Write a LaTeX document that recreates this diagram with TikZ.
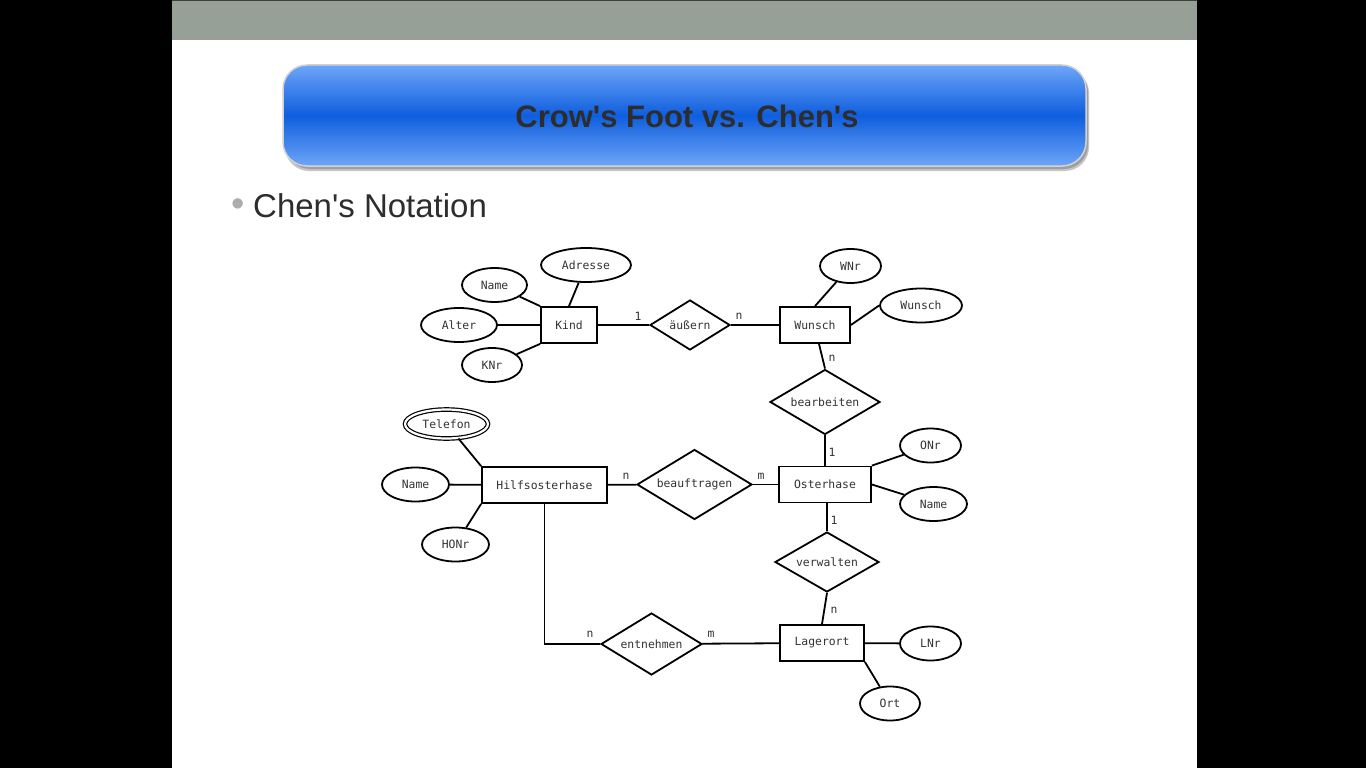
\documentclass[tikz,border=0pt]{standalone}
\usepackage{fontspec}
\setmainfont{Liberation Sans}[Ligatures=TeXOff]
\newfontfamily\monof{DejaVu Sans Mono}
\usetikzlibrary{shapes.geometric}
\definecolor{greybar}{RGB}{150,160,150}
\definecolor{tbA}{RGB}{110,165,248}
\definecolor{tbB}{RGB}{14,94,222}
\definecolor{txt}{RGB}{45,45,45}
\begin{document}
\begin{tikzpicture}[x=1pt,y=-1pt,
  er/.style={font=\monof\fontsize{11.4}{13}\selectfont, text=black!80},
  entity/.style={er, draw, line width=1.8, inner sep=0, minimum height=36},
  rel/.style={er, draw, diamond, aspect=2.5, line width=1.8, inner sep=0},
  attr/.style={er, draw, ellipse, line width=1.8, inner sep=0, minimum height=34},
  card/.style={er, inner sep=0},
  link/.style={line width=1.8}]
\useasboundingbox (0,0) rectangle (1366,768);
\fill[black] (0,0) rectangle (1366,768);
\fill[white] (172,40) rectangle (1197,768);
\fill[greybar] (172,0) rectangle (1197,40);
\fill[black!60!greybar] (172,0) rectangle (1197,1.5);
% title box
\fill[gray!45, rounded corners=24] (285,69) rectangle (1089,171);
\fill[gray!75, rounded corners=24] (286,68) rectangle (1088,169);
\shade[top color=tbA, bottom color=tbA, middle color=tbB, rounded corners=24, draw=gray!35, line width=1.5] (283,65) rectangle (1086,166);
\node[font=\bfseries\fontsize{31}{36}\selectfont, text=txt] (title) at (687,116) {Crow's Foot vs. Chen's};
\node[text=gray!65, font=\fontsize{38}{40}\selectfont, inner sep=0] (bullet) at (238,208) {•};
\node[anchor=west, font=\fontsize{33}{38}\selectfont, text=txt, inner sep=0] (sub) at (253,206) {Chen's Notation};
% entities
\node[entity, minimum width=56] (kind) at (569,325) {Kind};
\node[entity, minimum width=70] (wunsch) at (815,325) {Wunsch};
\node[entity, minimum width=125] (hilfs) at (544.5,485) {Hilfsosterhase};
\node[entity, minimum width=92] (oster) at (825,484.5) {Osterhase};
\node[entity, minimum width=84] (lager) at (822,643) {Lagerort};
% relationships
\node[rel, minimum width=80, minimum height=50] (aeussern) at (690,325) {äußern};
\node[rel, minimum width=110, minimum height=65] (bearb) at (825,402) {bearbeiten};
\node[rel, minimum width=115, minimum height=70] (beauf) at (694.5,484.5) {beauftragen};
\node[rel, minimum width=104, minimum height=60] (verw) at (827,562) {verwalten};
\node[rel, minimum width=101, minimum height=62] (entn) at (651.5,644) {entnehmen};
% attributes
\node[attr, minimum width=90] (adresse) at (586,265) {Adresse};
\node[attr, minimum width=65] (nameK) at (494.5,285) {Name};
\node[attr, minimum width=76] (alter) at (459,325) {Alter};
\node[attr, minimum width=60] (knr) at (492,365) {KNr};
\node[attr, minimum width=61] (wnr) at (850.5,266) {WNr};
\node[attr, minimum width=82] (wunschA) at (921,305.5) {Wunsch};
\node[attr, minimum width=83, minimum height=29, double, double distance=2.2, line width=1.2] (telefon) at (446.5,424) {Telefon};
\node[attr, minimum width=67] (nameH) at (415.5,484.5) {Name};
\node[attr, minimum width=67] (honr) at (455.5,544.5) {HONr};
\node[attr, minimum width=61] (onr) at (930.5,445.5) {ONr};
\node[attr, minimum width=67] (nameO) at (933.5,504) {Name};
\node[attr, minimum width=61] (lnr) at (930.5,643.5) {LNr};
\node[attr, minimum width=60] (ort) at (890,703.5) {Ort};
% connectors
\draw[link] (kind.north) -- (adresse);
\draw[link] (kind.north west) -- (nameK);
\draw[link] (alter) -- (kind);
\draw[link] (kind.south west) -- (knr);
\draw[link] (kind) -- (aeussern);
\draw[link] (aeussern) -- (wunsch);
\draw[link] (wunsch.north) -- (wnr);
\draw[link] (wunsch.east) -- (wunschA.west);
\draw[link] ([xshift=4]wunsch.south) -- (bearb.north);
\draw[link] (bearb.south) -- (oster.north);
\draw[link] (oster.north east) -- (onr);
\draw[link] (oster.east) -- (nameO);
\draw[link] ([xshift=2]oster.south) -- (verw.north);
\draw[link] (verw.south) -- (lager.north);
\draw[link] (lager) -- (lnr);
\draw[link] (lager.south east) -- (ort);
\draw[link] (beauf) -- (oster);
\draw[link] (hilfs) -- (beauf);
\draw[link] (hilfs.north west) -- (telefon);
\draw[link] (nameH) -- (hilfs);
\draw[link] (hilfs.south west) -- (honr);
\draw[link] (hilfs.south) -- (hilfs.south |- entn.west) -- (entn.west);
\draw[link] (entn) -- (lager);
% cardinalities
\node[card] (c1) at (638,316) {1};
\node[card] (c2) at (739,316) {n};
\node[card] (c3) at (832,358) {n};
\node[card] (c4) at (832,452) {1};
\node[card] (c5) at (626,476) {n};
\node[card] (c6) at (761,476) {m};
\node[card] (c7) at (834,520) {1};
\node[card] (c8) at (834,610) {n};
\node[card] (c9) at (590,634) {n};
\node[card] (c10) at (711,634) {m};
\end{tikzpicture}
\end{document}
